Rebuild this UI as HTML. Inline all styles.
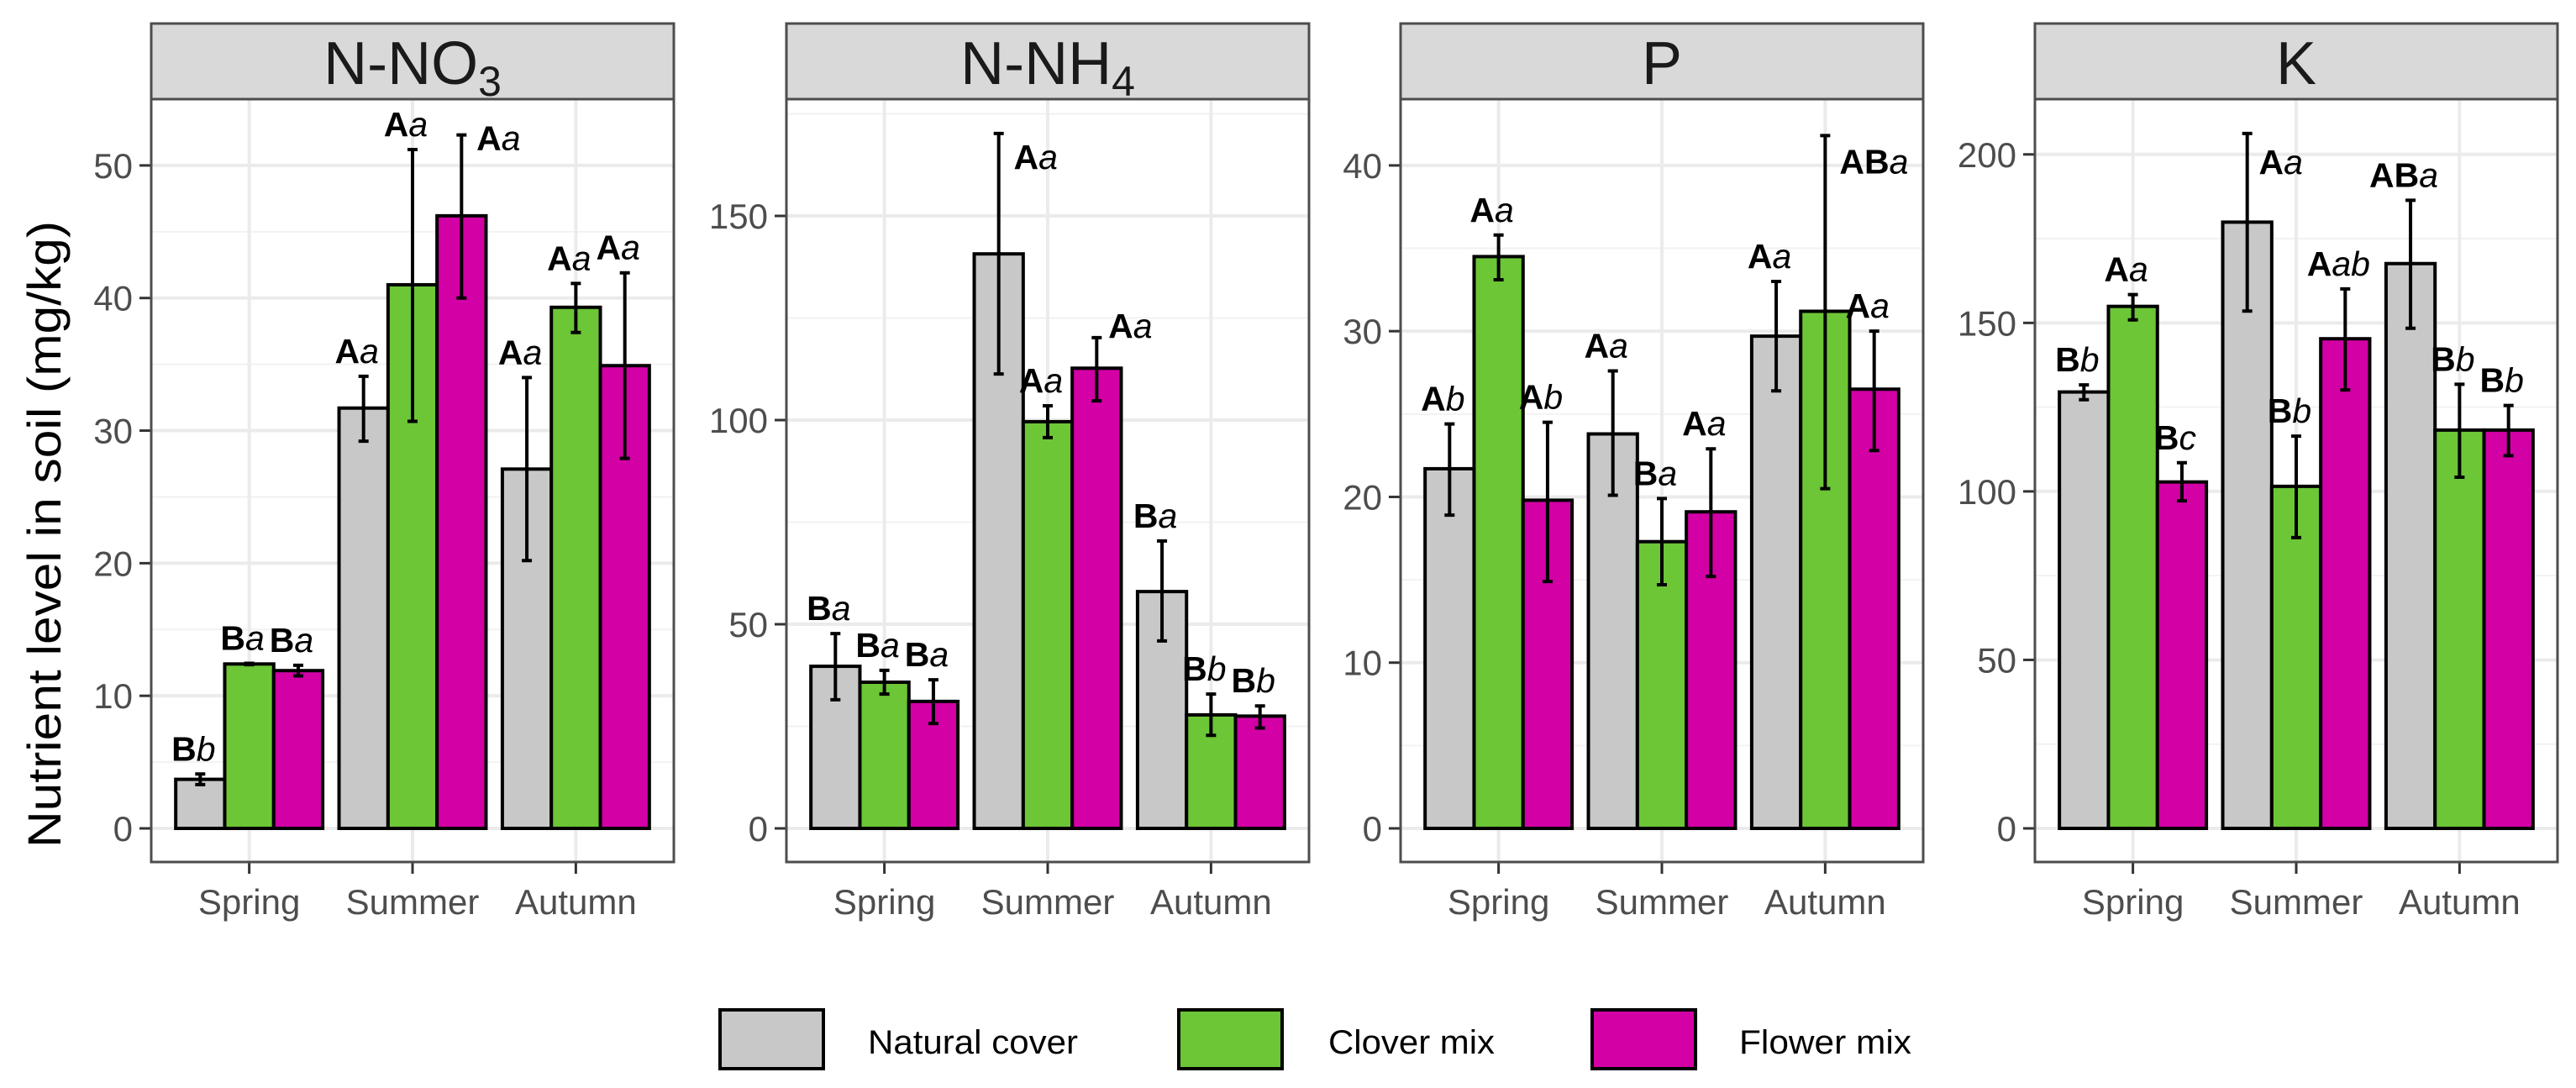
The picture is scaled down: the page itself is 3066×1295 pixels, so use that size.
<!DOCTYPE html>
<html><head><meta charset="utf-8"><style>
html,body{margin:0;padding:0;background:#fff}
svg{display:block}
text{font-family:"Liberation Sans",sans-serif}
</style></head><body>
<svg id="chart" width="3066" height="1295" viewBox="0 0 3066 1295" xmlns="http://www.w3.org/2000/svg">
<text transform="translate(72,636) rotate(-90)" text-anchor="middle" font-size="56" textLength="746" lengthAdjust="spacingAndGlyphs" fill="#000">Nutrient level in soil (mg/kg)</text>
<g>
<rect x="857" y="1202" width="123" height="70" fill="#c8c8c8" stroke="#000" stroke-width="4"/>
<text x="1033" y="1254" font-size="40" textLength="250" lengthAdjust="spacingAndGlyphs">Natural cover</text>
<rect x="1403" y="1202" width="123" height="70" fill="#6cc636" stroke="#000" stroke-width="4"/>
<text x="1581" y="1254" font-size="40" textLength="198" lengthAdjust="spacingAndGlyphs">Clover mix</text>
<rect x="1895" y="1202" width="123" height="70" fill="#d200a5" stroke="#000" stroke-width="4"/>
<text x="2070" y="1254" font-size="40" textLength="205" lengthAdjust="spacingAndGlyphs">Flower mix</text>
</g>
</svg>
<script>
const categories = ["Spring", "Summer", "Autumn"];
const seriesNames = ["Natural cover", "Clover mix", "Flower mix"];
const seriesColors = ["#c8c8c8", "#6cc636", "#d200a5"];

const no3Mean = [[3.7, 12.4, 11.9], [31.7, 41.0, 46.2], [27.1, 39.3, 34.9]];
const no3Low  = [[3.3, 12.35, 11.5], [29.2, 30.7, 40.0], [20.2, 37.4, 27.9]];
const no3High = [[4.1, 12.45, 12.3], [34.1, 51.2, 52.3], [34.0, 41.1, 41.9]];
const no3Letters = [["Bb","Ba","Ba"],["Aa","Aa","Aa"],["Aa","Aa","Aa"]];
const no3Ticks = [0, 10, 20, 30, 40, 50];

const nh4Mean = [[39.7, 35.8, 31.1], [140.7, 99.6, 112.7], [58.0, 27.8, 27.5]];
const nh4Low  = [[31.5, 32.9, 25.7], [111.3, 95.7, 104.7], [45.9, 22.8, 24.6]];
const nh4High = [[47.7, 38.7, 36.4], [170.2, 103.5, 120.2], [70.4, 32.9, 30.0]];
const nh4Letters = [["Ba","Ba","Ba"],["Aa","Aa","Aa"],["Ba","Bb","Bb"]];
const nh4Ticks = [0, 50, 100, 150];

const pMean = [[21.7, 34.5, 19.8], [23.8, 17.3, 19.1], [29.7, 31.2, 26.5]];
const pLow  = [[18.9, 33.1, 14.9], [20.1, 14.7, 15.2], [26.4, 20.5, 22.8]];
const pHigh = [[24.4, 35.8, 24.5], [27.6, 19.9, 22.9], [33.0, 41.8, 30.0]];
const pLetters = [["Ab","Aa","Ab"],["Aa","Ba","Aa"],["Aa","ABa","Aa"]];
const pTicks = [0, 10, 20, 30, 40];

const kMean = [[129.5, 154.9, 102.8], [179.9, 101.5, 145.3], [167.6, 118.2, 118.2]];
const kLow  = [[127.2, 150.9, 97.2], [153.5, 86.3, 130.1], [148.4, 104.2, 110.6]];
const kHigh = [[131.6, 158.4, 108.5], [206.2, 116.4, 160.1], [186.4, 131.8, 125.5]];
const kLetters = [["Bb","Aa","Bc"],["Aa","Bb","Aab"],["ABa","Bb","Bb"]];
const kTicks = [0, 50, 100, 150, 200];

// layout / style (not data)
const panels = [
  {id:"n-no3", title:"N-NO", sub:"3", left:180, ymax:55.0, mean:no3Mean, lo:no3Low, hi:no3High, letters:no3Letters, ticks:no3Ticks,
   shift:{"1,2":[44,18]}},
  {id:"n-nh4", title:"N-NH", sub:"4", left:936, ymax:178.6, mean:nh4Mean, lo:nh4Low, hi:nh4High, letters:nh4Letters, ticks:nh4Ticks,
   shift:{"1,0":[44,42],"1,2":[40,0]}},
  {id:"p", title:"P", sub:"", left:1667, ymax:44.0, mean:pMean, lo:pLow, hi:pHigh, letters:pLetters, ticks:pTicks,
   shift:{"2,1":[58,45]}},
  {id:"k", title:"K", sub:"", left:2422, ymax:216.4, mean:kMean, lo:kLow, hi:kHigh, letters:kLetters, ticks:kTicks,
   shift:{"1,0":[40,48]}}
];
const W = 622, stripTop = 28, plotTop = 118, plotBottom = 1026, y0 = 986;
const NS = "http://www.w3.org/2000/svg";
const svg = document.getElementById("chart");
function mk(tag, attrs, parent){ const e=document.createElementNS(NS,tag); for(const k in attrs) e.setAttribute(k,attrs[k]); (parent||svg).appendChild(e); return e; }

panels.forEach(p => {
  const g = mk("g", {});
  
  
  const unit = W / 3.2;
  const xScale = i => p.left + (0.6 + i) * unit;
  const yScale = v => y0 - v * (y0 - plotTop) / p.ymax;
  const step = p.ticks[1] - p.ticks[0];
  for (let t = -1; t < p.ticks.length; t++) {
    const mv = p.ticks[0] + (t + 0.5) * step;
    const y = yScale(mv);
    if (y > plotTop && y < plotBottom) {
      const l = mk("line", {x1:p.left, x2:p.left+W, y1:y, y2:y, stroke:"#f2f2f2", "stroke-width":2}, g);
      
      
    }
  }
  p.ticks.forEach(t => {
    const y = yScale(t);
    const l = mk("line", {x1:p.left, x2:p.left+W, y1:y, y2:y, stroke:"#ebebeb", "stroke-width":4}, g);
    
    
    const tk = mk("line", {x1:p.left-14, x2:p.left, y1:y, y2:y, stroke:"#333", "stroke-width":3}, g);
    
    
    const tx = mk("text", {x:p.left-22, y:y+15, "text-anchor":"end", "font-size":42, fill:"#4d4d4d"}, g);
    tx.textContent = t;
    
    
  });
  categories.forEach((c, i) => {
    const x = xScale(i);
    const l = mk("line", {x1:x, x2:x, y1:plotTop, y2:plotBottom, stroke:"#ebebeb", "stroke-width":4}, g);
    
    
    const tk = mk("line", {x1:x, x2:x, y1:plotBottom, y2:plotBottom+14, stroke:"#333", "stroke-width":3}, g);
    
    
    const tx = mk("text", {x:x, y:1088, "text-anchor":"middle", "font-size":42, fill:"#4d4d4d"}, g);
    tx.textContent = c;
    
    
  });
  const bw = 0.3 * unit;
  categories.forEach((c, i) => {
    seriesNames.forEach((s, j) => {
      const bx = xScale(i) + (j - 1.5) * bw;
      const cx = bx + bw / 2;
      const yt = yScale(p.mean[i][j]);
      const r = mk("rect", {x:bx, y:yt, width:bw, height:y0-yt, fill:seriesColors[j], stroke:"#000", "stroke-width":4}, g);
      
      
      const yh = yScale(p.hi[i][j]), yl = yScale(p.lo[i][j]);
      const eb = mk("path", {d:`M${cx},${yh}V${yl}M${cx-6},${yh}H${cx+6}M${cx-6},${yl}H${cx+6}`, stroke:"#000", "stroke-width":4, fill:"none"}, g);
      
      
      const sh = p.shift[i + "," + j] || [-8, -16];
      const lbl = p.letters[i][j];
      const caps = lbl.replace(/[a-z]/g, ""), low = lbl.replace(/[A-Z]/g, "");
      const t = mk("text", {x:cx+sh[0], y:yh+sh[1], "text-anchor":"middle", "font-size":41, fill:"#000"}, g);
      
      
      const t1 = mk("tspan", {"font-weight":"bold"}, t); t1.textContent = caps;
      const t2 = mk("tspan", {"font-style":"italic"}, t); t2.textContent = low;
    });
  });
  const b = mk("rect", {x:p.left, y:plotTop, width:W, height:plotBottom-plotTop, fill:"none", stroke:"#4d4d4d", "stroke-width":3}, g);
  
  
  const st = mk("rect", {x:p.left, y:stripTop, width:W, height:plotTop-stripTop, fill:"#d9d9d9", stroke:"#4d4d4d", "stroke-width":3}, g);
  
  
  const stt = mk("text", {x:p.left+W/2, y:100, "text-anchor":"middle", "font-size":72, fill:"#1a1a1a"}, g);
  
  
  const a = mk("tspan", {}, stt); a.textContent = p.title;
  if (p.sub) { const s = mk("tspan", {"font-size":50, dy:14}, stt); s.textContent = p.sub; }
});
</script>
</body></html>
